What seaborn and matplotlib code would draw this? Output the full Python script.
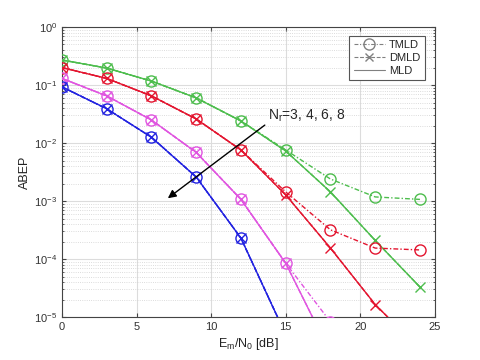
import numpy as np
import pandas as pd
import seaborn as sns
import matplotlib
matplotlib.use("Agg")
import matplotlib.pyplot as plt
from matplotlib.lines import Line2D
from matplotlib.ticker import LogLocator, NullFormatter

# Em/N0 grid [dB]
snr = [0, 3, 6, 9, 12, 15, 18, 21, 24]

# ABEP, per number of receive antennas Nr
tmld_3 = [0.27, 0.196, 0.117, 0.06, 0.024, 0.0076, 0.0024, 0.00118, 0.00107]
dmld_3 = [0.27, 0.196, 0.117, 0.06, 0.024, 0.0073, 0.00144, 0.00021, 3.3e-5]
mld_3 = [0.27, 0.196, 0.117, 0.06, 0.024, 0.0073, 0.00144, 0.00021, 3.3e-5]

tmld_4 = [0.2, 0.13, 0.065, 0.026, 0.0076, 0.00144, 3.2e-4, 1.55e-4, 1.44e-4]
dmld_4 = [0.2, 0.13, 0.065, 0.026, 0.0076, 0.00128, 1.55e-4, 1.65e-5, 2.8e-6]
mld_4 = [0.2, 0.13, 0.065, 0.026, 0.0076, 0.00128, 1.55e-4, 1.65e-5, 2.8e-6]

tmld_6 = [0.13, 0.065, 0.025, 0.0069, 0.00107, 8.5e-5, 8.3e-6]
dmld_6 = [0.13, 0.065, 0.025, 0.0069, 0.00107, 8.5e-5, 2.4e-6]
mld_6 = [0.13, 0.065, 0.025, 0.0069, 0.00107, 8.5e-5, 2.4e-6]

tmld_8 = [0.093, 0.039, 0.0126, 0.0026, 2.3e-4, 5e-6]
dmld_8 = [0.093, 0.039, 0.0126, 0.0026, 2.3e-4, 5e-6]
mld_8 = [0.093, 0.039, 0.0126, 0.0026, 2.3e-4, 5e-6]

nr_values = [3, 4, 6, 8]
detectors = ["TMLD", "DMLD", "MLD"]
results = {
    3: [tmld_3, dmld_3, mld_3],
    4: [tmld_4, dmld_4, mld_4],
    6: [tmld_6, dmld_6, mld_6],
    8: [tmld_8, dmld_8, mld_8],
}

colors = {3: "#4dbd4d", 4: "#e3152f", 6: "#e055e0", 8: "#2222e0"}
# (dash pattern, marker, marker size)
styles = {"TMLD": ((0, (3.5, 1.5, 1, 1.5)), "o", 8),
          "DMLD": ((0, (3.5, 1.5)), "x", 7),
          "MLD": ("-", None, 0)}

rows = []
for nr in nr_values:
    for det, vals in zip(detectors, results[nr]):
        for s, v in zip(snr, vals):
            rows.append({"snr": s, "abep": v, "Nr": nr, "det": det})
df = pd.DataFrame(rows)

sns.set_style("ticks")
plt.rcParams["font.family"] = ["Liberation Sans", "DejaVu Sans"]
plt.rcParams["mathtext.default"] = "regular"

fig = plt.figure(figsize=(4.8, 3.6), dpi=100)
ax = fig.add_axes([0.129, 0.119, 0.777, 0.806])

for nr in nr_values:
    for det in detectors:
        ls, mk, ms = styles[det]
        sub = df[(df.Nr == nr) & (df.det == det)]
        sns.lineplot(data=sub, x="snr", y="abep", ax=ax, color=colors[nr],
                     linestyle=ls, linewidth=1.0, marker=mk, markersize=ms,
                     markerfacecolor="none", markeredgecolor=colors[nr],
                     markeredgewidth=1.0, legend=False, zorder=3)

ax.set_yscale("log")
ax.set_xlim(0, 25)
ax.set_ylim(1e-5, 1)
ax.set_xticks([0, 5, 10, 15, 20, 25])
ax.yaxis.set_major_locator(LogLocator(base=10, numticks=10))
ax.yaxis.set_minor_locator(LogLocator(base=10, subs=np.arange(2, 10), numticks=10))
ax.yaxis.set_minor_formatter(NullFormatter())
ax.grid(True, which="major", color="#dcdcdc", linewidth=0.8, linestyle="-")
ax.grid(True, which="minor", axis="y", color="#d0d0d0", linewidth=0.6, linestyle=":")
ax.tick_params(which="both", direction="in", top=True, right=True, labelsize=8,
               color="#444444", labelcolor="#333333")
ax.tick_params(which="major", length=3)
ax.tick_params(which="minor", length=1.5)
for sp in ax.spines.values():
    sp.set_color("#444444")
    sp.set_linewidth(0.8)

ax.set_xlabel("E$_m$/N$_0$ [dB]", fontsize=9, color="#222222", labelpad=3)
ax.set_ylabel("ABEP", fontsize=9, color="#222222", labelpad=2)

# arrow showing increasing Nr
ax.annotate("", xy=(7.1, 1.12e-3), xytext=(13.6, 0.0204),
            arrowprops=dict(arrowstyle="-|>", color="black", lw=1.0,
                            mutation_scale=12, shrinkA=0, shrinkB=0), zorder=5)
ax.text(13.8, 0.03, "N$_r$=3, 4, 6, 8", fontsize=10, va="center", ha="left", zorder=5)

handles = [
    Line2D([], [], color="gray", linestyle=styles["TMLD"][0], marker="o",
           markerfacecolor="none", markersize=8, lw=0.8),
    Line2D([], [], color="gray", linestyle=styles["DMLD"][0], marker="x",
           markersize=6, lw=0.8),
    Line2D([], [], color="gray", linestyle="-", lw=0.8),
]
leg = ax.legend(handles, detectors, loc="upper right", fontsize=8, fancybox=False,
                framealpha=1, edgecolor="#555555", handlelength=2.8,
                borderpad=0.4, labelspacing=0.25, handletextpad=0.4,
                borderaxespad=0, bbox_to_anchor=(0.973, 0.97))
leg.get_frame().set_linewidth(0.8)

fig.savefig("out.png", dpi=100)
